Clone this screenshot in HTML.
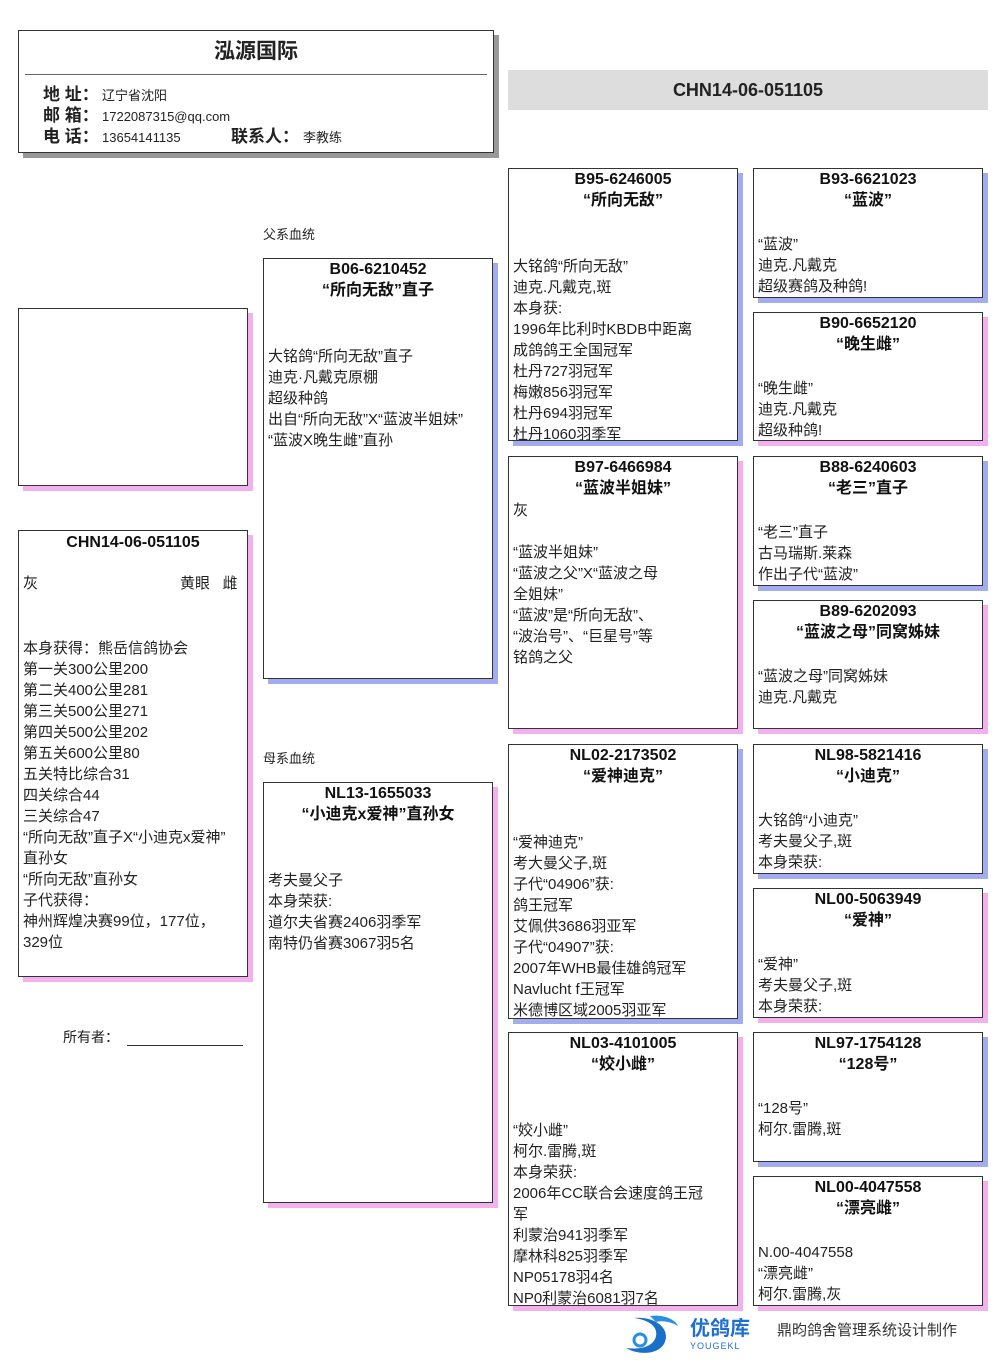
<!DOCTYPE html>
<html><head><meta charset="utf-8">
<style>
*{margin:0;padding:0;box-sizing:border-box}
body{width:1006px;height:1366px;background:#fff;position:relative;overflow:hidden;font-family:"Liberation Sans","Noto Sans CJK SC",sans-serif;color:#222}
.b{position:absolute;border:1px solid #333;background:#fff;overflow:hidden}
.bl{box-shadow:5px 5px 0 #a3acee}
.pk{box-shadow:5px 5px 0 #f3b0ee}
.t{position:absolute;left:0;right:0;top:0;text-align:center;font-weight:bold;font-size:16px;line-height:21px;color:#111}
.c{position:absolute;left:4px;right:2px;font-size:15px;line-height:21px;white-space:nowrap}
.lbl{position:absolute;font-size:13px}
.a{position:absolute;white-space:nowrap}
</style></head><body>

<!-- header -->
<div class="b" style="left:18px;top:30px;width:476px;height:123px;box-shadow:5px 5px 0 #999"></div>
<div class="a" style="left:18px;width:476px;top:38px;text-align:center;font-size:21px;font-weight:bold;line-height:28px">泓源国际</div>
<div class="a" style="left:25px;top:74px;width:462px;height:1px;background:#666"></div>
<div class="a" style="left:43px;top:84px;font-size:17px;font-weight:bold;line-height:22px">地 址：</div>
<div class="a" style="left:102px;top:86px;font-size:13px;line-height:20px">辽宁省沈阳</div>
<div class="a" style="left:43px;top:105px;font-size:17px;font-weight:bold;line-height:22px">邮 箱：</div>
<div class="a" style="left:102px;top:107px;font-size:13px;line-height:20px">1722087315@qq.com</div>
<div class="a" style="left:43px;top:126px;font-size:17px;font-weight:bold;line-height:22px">电 话：</div>
<div class="a" style="left:102px;top:128px;font-size:13px;line-height:20px">13654141135</div>
<div class="a" style="left:231px;top:126px;font-size:17px;font-weight:bold;line-height:22px">联系人：</div>
<div class="a" style="left:303px;top:128px;font-size:13px;line-height:20px">李教练</div>

<!-- gray bar -->
<div class="a" style="left:508px;top:70px;width:480px;height:40px;background:#ddd;text-align:center;font-weight:bold;font-size:18px;line-height:40px;color:#222">CHN14-06-051105</div>

<!-- photo -->
<div class="b pk" style="left:18px;top:308px;width:230px;height:178px"></div>

<!-- main -->
<div class="b pk" style="left:18px;top:530px;width:230px;height:447px">
<div class="t" style="top:1px">CHN14-06-051105</div>
<div class="c" style="top:42px">灰</div>
<div class="a" style="left:161px;top:42px;font-size:15px;line-height:21px">黄眼&nbsp;&nbsp;&nbsp;雌</div>
<div class="c" style="top:107px">本身获得：熊岳信鸽协会<br>第一关300公里200<br>第二关400公里281<br>第三关500公里271<br>第四关500公里202<br>第五关600公里80<br>五关特比综合31<br>四关综合44<br>三关综合47<br>“所向无敌”直子X“小迪克x爱神”<br>直孙女<br>“所向无敌”直孙女<br>子代获得：<br>神州辉煌决赛99位，177位，<br>329位</div>
</div>
<div class="a" style="left:63px;top:1027px;font-size:14px;line-height:20px">所有者：</div>
<div class="a" style="left:127px;top:1045px;width:116px;height:1px;background:#333"></div>

<div class="lbl" style="left:263px;top:224px">父系血统</div>
<div class="lbl" style="left:263px;top:748px">母系血统</div>

<!-- gen1 -->
<div class="b bl" style="left:263px;top:258px;width:230px;height:421px">
<div class="t">B06-6210452<br>“所向无敌”直子</div>
<div class="c" style="top:87px">大铭鸽“所向无敌”直子<br>迪克·凡戴克原棚<br>超级种鸽<br>出自“所向无敌”X“蓝波半姐妹”<br>“蓝波X晚生雌”直孙</div>
</div>
<div class="b pk" style="left:263px;top:782px;width:230px;height:421px">
<div class="t">NL13-1655033<br>“小迪克x爱神”直孙女</div>
<div class="c" style="top:87px">考夫曼父子<br>本身荣获:<br>道尔夫省赛2406羽季军<br>南特仍省赛3067羽5名</div>
</div>

<!-- gen2 -->
<div class="b bl" style="left:508px;top:168px;width:230px;height:273px">
<div class="t">B95-6246005<br>“所向无敌”</div>
<div class="c" style="top:87px">大铭鸽“所向无敌”<br>迪克.凡戴克,斑<br>本身获:<br>1996年比利时KBDB中距离<br>成鸽鸽王全国冠军<br>杜丹727羽冠军<br>梅嫩856羽冠军<br>杜丹694羽冠军<br>杜丹1060羽季军</div>
</div>
<div class="b pk" style="left:508px;top:456px;width:230px;height:273px">
<div class="t">B97-6466984<br>“蓝波半姐妹”</div>
<div class="c" style="top:43px">灰<br><br>“蓝波半姐妹”<br>“蓝波之父”X“蓝波之母<br>全姐妹”<br>“蓝波”是“所向无敌”、<br>“波治号”、“巨星号”等<br>铭鸽之父</div>
</div>
<div class="b bl" style="left:508px;top:744px;width:230px;height:275px">
<div class="t">NL02-2173502<br>“爱神迪克”</div>
<div class="c" style="top:87px">“爱神迪克”<br>考大曼父子,斑<br>子代“04906”获:<br>鸽王冠军<br>艾佩供3686羽亚军<br>子代“04907”获:<br>2007年WHB最佳雄鸽冠军<br>Navlucht f王冠军<br>米德博区域2005羽亚军</div>
</div>
<div class="b pk" style="left:508px;top:1032px;width:230px;height:274px">
<div class="t">NL03-4101005<br>“姣小雌”</div>
<div class="c" style="top:87px">“姣小雌”<br>柯尔.雷腾,斑<br>本身荣获:<br>2006年CC联合会速度鸽王冠<br>军<br>利蒙治941羽季军<br>摩林科825羽季军<br>NP05178羽4名<br>NP0利蒙治6081羽7名</div>
</div>

<!-- gen3 -->
<div class="b bl" style="left:753px;top:168px;width:230px;height:130px">
<div class="t">B93-6621023<br>“蓝波”</div>
<div class="c" style="top:65px">“蓝波”<br>迪克.凡戴克<br>超级赛鸽及种鸽!</div>
</div>
<div class="b pk" style="left:753px;top:312px;width:230px;height:129px">
<div class="t">B90-6652120<br>“晚生雌”</div>
<div class="c" style="top:65px">“晚生雌”<br>迪克.凡戴克<br>超级种鸽!</div>
</div>
<div class="b bl" style="left:753px;top:456px;width:230px;height:130px">
<div class="t">B88-6240603<br>“老三”直子</div>
<div class="c" style="top:65px">“老三”直子<br>古马瑞斯.莱森<br>作出子代“蓝波”</div>
</div>
<div class="b pk" style="left:753px;top:600px;width:230px;height:129px">
<div class="t">B89-6202093<br>“蓝波之母”同窝姊妹</div>
<div class="c" style="top:65px">“蓝波之母”同窝姊妹<br>迪克.凡戴克</div>
</div>
<div class="b bl" style="left:753px;top:744px;width:230px;height:130px">
<div class="t">NL98-5821416<br>“小迪克”</div>
<div class="c" style="top:65px">大铭鸽“小迪克”<br>考夫曼父子,斑<br>本身荣获:</div>
</div>
<div class="b pk" style="left:753px;top:888px;width:230px;height:130px">
<div class="t">NL00-5063949<br>“爱神”</div>
<div class="c" style="top:65px">“爱神”<br>考夫曼父子,斑<br>本身荣获:</div>
</div>
<div class="b bl" style="left:753px;top:1032px;width:230px;height:130px">
<div class="t">NL97-1754128<br>“128号”</div>
<div class="c" style="top:65px">“128号”<br>柯尔.雷腾,斑</div>
</div>
<div class="b pk" style="left:753px;top:1176px;width:230px;height:130px">
<div class="t">NL00-4047558<br>“漂亮雌”</div>
<div class="c" style="top:65px">N.00-4047558<br>“漂亮雌”<br>柯尔.雷腾,灰</div>
</div>

<!-- logo -->
<svg style="position:absolute;left:620px;top:1312px" width="66" height="44" viewBox="0 0 66 44">
<path d="M14 6 C34 4 52 16 44 32 C38 42 20 44 6 36 C22 38 34 34 36 24 C38 14 28 8 14 6Z" fill="#1a6fc9"/>
<path d="M30 4 C44 2 56 8 58 14 C52 10 42 8 36 10Z" fill="#2a8fe0"/>
<circle cx="20" cy="28" r="6" fill="none" stroke="#2a8fe0" stroke-width="3"/>
</svg>
<div class="a" style="left:690px;top:1317px;font-size:20px;font-weight:bold;color:#1f6fd0;line-height:24px">优鸽库</div>
<div class="a" style="left:690px;top:1341px;font-size:9px;color:#1f6fd0;letter-spacing:1px;line-height:10px">YOUGEKL</div>
<div class="a" style="left:777px;top:1321px;font-size:15px;line-height:20px;color:#333">鼎昀鸽舍管理系统设计制作</div>

</body></html>
